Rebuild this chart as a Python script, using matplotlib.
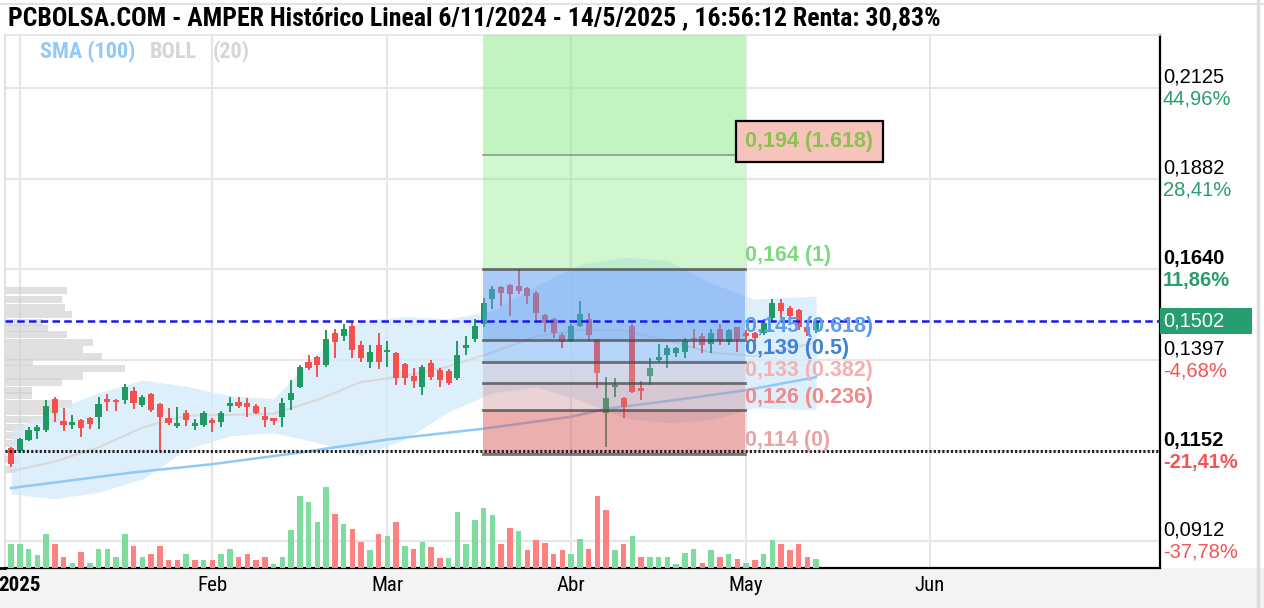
import numpy as np
import matplotlib
matplotlib.use("Agg")
import matplotlib.pyplot as plt
from matplotlib import font_manager
from matplotlib.patches import Rectangle
from matplotlib.lines import Line2D
from matplotlib.transforms import blended_transform_factory

installed = {f.name for f in font_manager.fontManager.ttflist}
cond = next((f for f in ["Roboto Condensed", "Liberation Sans Narrow", "Open Sans Condensed", "Roboto"]
             if f in installed), "DejaVu Sans")
sans = "Liberation Sans" if "Liberation Sans" in installed else "DejaVu Sans"

title = "PCBOLSA.COM - AMPER Histórico Lineal 6/11/2024 - 14/5/2025 , 16:56:12 Renta: 30,83%"

# daily candles, 31/12/2024 .. 14/5/2025 (trading days)
opens = [0.1160, 0.1152, 0.1184, 0.1208, 0.1210, 0.1293, 0.1234, 0.1224, 0.1237, 0.1242,
         0.1245, 0.1293, 0.1290, 0.1290, 0.1314, 0.1277, 0.1306, 0.1279, 0.1242, 0.1221,
         0.1255, 0.1221, 0.1224, 0.1237, 0.1232, 0.1274, 0.1285, 0.1282, 0.1274, 0.1247,
         0.1242, 0.1245, 0.1290, 0.1324, 0.1391, 0.1404, 0.1383, 0.1470, 0.1462, 0.1489,
         0.1436, 0.1391, 0.1436, 0.1417, 0.1415, 0.1385, 0.1354, 0.1324, 0.1388, 0.1369,
         0.1367, 0.1348, 0.1430, 0.1454, 0.1494, 0.1560, 0.1592, 0.1598, 0.1595, 0.1590,
         0.1576, 0.1518, 0.1507, 0.1465, 0.1449, 0.1489, 0.1507, 0.1452, 0.1255, 0.1324,
         0.1295, 0.1489, 0.1322, 0.1354, 0.1396, 0.1409, 0.1415, 0.1417, 0.1457, 0.1462,
         0.1441, 0.1481, 0.1444, 0.1484, 0.1470, 0.1470, 0.1470, 0.1510, 0.1550, 0.1537,
         0.1531, 0.1484, 0.1476]
highs = [0.1165, 0.1189, 0.1218, 0.1224, 0.1290, 0.1298, 0.1269, 0.1250, 0.1240, 0.1245,
         0.1298, 0.1306, 0.1293, 0.1332, 0.1324, 0.1303, 0.1308, 0.1282, 0.1269, 0.1271,
         0.1263, 0.1240, 0.1261, 0.1242, 0.1261, 0.1298, 0.1298, 0.1295, 0.1279, 0.1271,
         0.1242, 0.1295, 0.1343, 0.1383, 0.1409, 0.1407, 0.1476, 0.1481, 0.1494, 0.1502,
         0.1449, 0.1436, 0.1470, 0.1449, 0.1417, 0.1388, 0.1375, 0.1383, 0.1396, 0.1375,
         0.1372, 0.1449, 0.1462, 0.1507, 0.1563, 0.1595, 0.1595, 0.1600, 0.1640, 0.1592,
         0.1582, 0.1521, 0.1510, 0.1468, 0.1494, 0.1555, 0.1523, 0.1454, 0.1351, 0.1348,
         0.1298, 0.1494, 0.1340, 0.1401, 0.1441, 0.1436, 0.1433, 0.1457, 0.1481, 0.1470,
         0.1481, 0.1494, 0.1481, 0.1486, 0.1476, 0.1473, 0.1507, 0.1560, 0.1560, 0.1542,
         0.1534, 0.1486, 0.1507]
lows = [0.1110, 0.1149, 0.1179, 0.1186, 0.1205, 0.1232, 0.1208, 0.1213, 0.1192, 0.1213,
        0.1213, 0.1261, 0.1261, 0.1279, 0.1266, 0.1271, 0.1258, 0.1152, 0.1224, 0.1216,
        0.1221, 0.1210, 0.1218, 0.1205, 0.1218, 0.1258, 0.1269, 0.1245, 0.1253, 0.1218,
        0.1224, 0.1218, 0.1263, 0.1322, 0.1369, 0.1351, 0.1377, 0.1401, 0.1449, 0.1401,
        0.1391, 0.1375, 0.1372, 0.1377, 0.1330, 0.1330, 0.1322, 0.1303, 0.1343, 0.1324,
        0.1330, 0.1343, 0.1409, 0.1446, 0.1484, 0.1534, 0.1542, 0.1515, 0.1574, 0.1547,
        0.1502, 0.1473, 0.1457, 0.1428, 0.1446, 0.1484, 0.1449, 0.1322, 0.1163, 0.1298,
        0.1242, 0.1308, 0.1290, 0.1330, 0.1391, 0.1375, 0.1404, 0.1401, 0.1430, 0.1415,
        0.1415, 0.1436, 0.1436, 0.1417, 0.1454, 0.1444, 0.1465, 0.1502, 0.1510, 0.1507,
        0.1476, 0.1462, 0.1468]
closes = [0.1118, 0.1186, 0.1210, 0.1218, 0.1274, 0.1255, 0.1224, 0.1232, 0.1216, 0.1226,
          0.1279, 0.1285, 0.1285, 0.1324, 0.1282, 0.1298, 0.1263, 0.1245, 0.1229, 0.1229,
          0.1237, 0.1229, 0.1255, 0.1229, 0.1255, 0.1282, 0.1274, 0.1271, 0.1255, 0.1237,
          0.1234, 0.1282, 0.1308, 0.1377, 0.1375, 0.1383, 0.1454, 0.1444, 0.1481, 0.1423,
          0.1401, 0.1417, 0.1391, 0.1423, 0.1348, 0.1348, 0.1340, 0.1377, 0.1351, 0.1343,
          0.1335, 0.1409, 0.1438, 0.1489, 0.1550, 0.1587, 0.1576, 0.1574, 0.1582, 0.1568,
          0.1523, 0.1497, 0.1470, 0.1444, 0.1489, 0.1521, 0.1465, 0.1362, 0.1295, 0.1330,
          0.1271, 0.1311, 0.1314, 0.1375, 0.1404, 0.1428, 0.1428, 0.1449, 0.1452, 0.1436,
          0.1470, 0.1449, 0.1476, 0.1454, 0.1462, 0.1457, 0.1497, 0.1550, 0.1529, 0.1515,
          0.1484, 0.1473, 0.1502]
# volume in millions of shares and its colour (g = up day, r = down day)
volumes = [10.9, 10.9, 8.7, 6.0, 15.2, 10.7, 5.0, 2.4, 7.2, 2.4,
           8.7, 8.7, 5.0, 15.2, 9.9, 5.0, 6.4, 9.9, 3.5, 3.5,
           6.2, 3.5, 3.5, 3.5, 6.2, 8.7, 5.0, 6.4, 3.5, 5.0,
           1.9, 5.0, 17.0, 32.4, 29.7, 20.7, 36.5, 24.2, 19.7, 17.7,
           11.7, 8.0, 15.2, 14.4, 20.7, 9.9, 8.7, 11.7, 9.5, 4.5,
           4.5, 25.2, 10.7, 21.5, 27.0, 23.7, 10.7, 18.0, 16.7, 8.0,
           12.5, 11.4, 6.4, 8.0, 6.4, 13.2, 8.7, 32.4, 26.0, 8.0,
           10.7, 14.3, 5.0, 5.0, 5.0, 5.0, 1.9, 6.9, 8.7, 2.4,
           8.0, 5.0, 6.2, 4.2, 2.4, 3.5, 6.2, 12.5, 10.7, 8.0,
           10.7, 5.0, 4.2]
vol_dir = ("gggggrrgrg" "ggggrgrrrr" "grgrggrrrr" "gggggggrgr" "rgrgrgrgrr"
           "ggggggrrgr" "rrrrggrrrg" "rgrggggggr" "grgrgrggrr" "rrg")

# indicators
band_idx = [0, 5, 10, 15, 20, 25, 30, 35, 40, 45, 50, 55, 60, 65, 70, 75, 80, 85, 92]
boll_upper = [0.1210, 0.1263, 0.1309, 0.1343, 0.1327, 0.1301, 0.1293, 0.1415, 0.1502, 0.1513,
              0.1507, 0.1529, 0.1595, 0.1653, 0.1672, 0.1664, 0.1603, 0.1560, 0.1568]
boll_mid = [0.1099, 0.1125, 0.1163, 0.1216, 0.1248, 0.1250, 0.1253, 0.1290, 0.1338, 0.1354,
            0.1380, 0.1417, 0.1460, 0.1478, 0.1476, 0.1449, 0.1417, 0.1407, 0.1444]
boll_lower = [0.1038, 0.1025, 0.1043, 0.1078, 0.1157, 0.1194, 0.1202, 0.1176, 0.1141, 0.1184,
              0.1258, 0.1309, 0.1324, 0.1290, 0.1242, 0.1229, 0.1237, 0.1269, 0.1263]
sma_idx = [0, 14, 23, 33, 43, 54, 64, 68, 76, 84, 92]
sma100 = [0.1054, 0.1096, 0.1118, 0.1149, 0.1184, 0.1213, 0.1245, 0.1266, 0.1290, 0.1316, 0.1351]

# volume-by-price profile
profile_prices = [0.1582, 0.1558, 0.1537, 0.1518, 0.1497, 0.1481, 0.1465, 0.1444, 0.1425, 0.1407,
                  0.1391, 0.1375, 0.1354, 0.1338, 0.1316, 0.1301, 0.1279, 0.1258, 0.1237, 0.1216,
                  0.1194, 0.1173, 0.1131, 0.1104]
profile_vol = [62, 57, 60, 67, 38, 43, 62, 88, 78, 97, 28, 120, 78, 57, 27, 27, 67, 55, 55, 20,
               18, 15, 14, 12]

month_idx = [1, 23, 43, 64, 84, 105]
month_labels = ["2025", "Feb", "Mar", "Abr", "May", "Jun"]

grid_prices = [0.2125, 0.1882, 0.1640, 0.1397, 0.1152, 0.0912]
grid_pct = ["44,96%", "28,41%", "11,86%", "-4,68%", "-21,41%", "-37,78%"]
bold_rows = [2, 4]
last_price = 0.1502
period_low = 0.1152

fib_low, fib_high = 0.1145, 0.1640
fib_ratios = [0, 0.236, 0.382, 0.5, 0.618, 1, 1.618]
fib_start, fib_end = 53.9, 83.9

# ---------------------------------------------------------------
W, H = 1264, 608
fig = plt.figure(figsize=(W / 100, H / 100), dpi=100)
fig.patch.set_facecolor("white")
fig.add_artist(Rectangle((0, 0), 1, 40 / H, transform=fig.transFigure,
                         fc="#f3f3f3", ec="none", zorder=-5))
fig.add_artist(Line2D([0, 1], [1 - 4 / H] * 2, color="#e2e2e2", lw=1.5))
fig.add_artist(Line2D([1258 / W] * 2, [0, 1], color="#dcdcdc", lw=2.5))
fig.add_artist(Line2D([0, 5 / W], [1 - 568 / H] * 2, color="black", lw=2))

ax = fig.add_axes([5 / W, 1 - 568 / H, 1155 / W, 533 / H])
ax.set_xlim(-0.69, 131.3)
ax.set_ylim(0.0840, 0.2267)

x = np.arange(len(closes))
o = np.array(opens); c = np.array(closes); h = np.array(highs); l = np.array(lows)

ax.set_yticks(grid_prices)
ax.set_xticks(month_idx)
ax.set_xticklabels(month_labels, family=cond, fontsize=15)
ax.get_xticklabels()[0].set_fontweight("bold")
ax.tick_params(axis="both", length=0, labelleft=False, pad=6)
ax.grid(True, color="#e6e6e6", lw=1.5)
ax.set_axisbelow(True)
for side, col, lw in [("left", "#dddddd", 1.2), ("top", "#e2e2e2", 1.2),
                      ("right", "black", 1.6), ("bottom", "black", 1.6)]:
    ax.spines[side].set_color(col)
    ax.spines[side].set_linewidth(lw)

# volume profile on the left edge
pv = np.array(profile_vol, dtype=float)
ax.barh(profile_prices, pv / pv.max() * 13.7, left=ax.get_xlim()[0], height=0.0019,
        color="#d0d0d0", alpha=0.65, lw=0, zorder=1)

# bollinger band and sma
ax.fill_between(band_idx, boll_lower, boll_upper, color="#d4eafb", alpha=0.75, lw=0, zorder=1.5)
ax.plot(band_idx, boll_mid, color="#d8d8d8", lw=1.5, zorder=2)
ax.plot(sma_idx, sma100, color="#8fc9f7", lw=1.8, zorder=2)

# candles
up = c >= o
cols = np.where(up, "#1f9a65", "#f4504e")
ax.vlines(x, l, h, colors=cols, lw=1.4, zorder=3)
body_lo = np.minimum(o, c)
body_h = np.maximum(np.abs(c - o), 0.0003)
ax.bar(x, body_h, bottom=body_lo, width=0.7, color=cols, lw=0, zorder=3.1)

# fibonacci retracement
levels = [fib_low + r * (fib_high - fib_low) for r in fib_ratios]
zones = [("#d86060", 0.50), ("#c87f88", 0.35), ("#b8adc8", 0.35), ("#5c9cf0", 0.30),
         ("#5c9cf0", 0.52), ("#86ea86", 0.38)]
for (col, a), lo, hi in zip(zones, levels[:-1], levels[1:]):
    ax.fill_between([fib_start, fib_end], lo, hi, color=col, alpha=a, lw=0, zorder=4)
ax.fill_between([fib_start, fib_end], levels[-1], ax.get_ylim()[1], color="#86ea86",
                alpha=0.5, lw=0, zorder=4)
for lev in levels[:-1]:
    ax.plot([fib_start, fib_end], [lev, lev], color="#4a4a4a", lw=2, alpha=0.75, zorder=5)
ax.plot([fib_start, fib_end], [levels[-1]] * 2, color="#6f8f6f", lw=1.2, alpha=0.8, zorder=5)

label_cols = ["#eba3a3", "#f08a8a", "#f5b0b0", "#3f82d6", "#5b9cf0", "#7fd97f", "#8cc152"]
for r, lev, col in zip(fib_ratios, levels, label_cols):
    txt = f"{int(lev * 1000 + 1e-6) / 1000:.3f}".replace(".", ",") + f" ({r:g})"
    kw = {}
    if r == 1.618:
        kw["bbox"] = dict(boxstyle="square,pad=0.45", fc="#f6c4ba", ec="black", lw=1.6)
    ax.annotate(txt, (fib_end, lev), xytext=(0, 2), textcoords="offset points",
                ha="left", va="bottom", color=col, fontsize=15.5, family=sans,
                fontweight="bold", zorder=7, annotation_clip=False, **kw)

# last price and period low
ax.axhline(last_price, color="#1a1aee", lw=1.8, dashes=(3.0, 1.7), zorder=6)
ax.axhline(period_low, color="#222222", lw=2.2, dashes=(0.7, 0.7), zorder=6)

# right price scale
tr = blended_transform_factory(ax.transAxes, ax.transData)
xl = 1 + 3 / 1155
for k, (p, pct) in enumerate(zip(grid_prices, grid_pct)):
    wt = "bold" if k in bold_rows else "normal"
    pcol = "#2a9d6c" if not pct.startswith("-") else "#f25555"
    ax.annotate(f"{p:.4f}".replace(".", ","), (xl, p), xycoords=tr, xytext=(0, 1),
                textcoords="offset points", va="bottom", ha="left", fontsize=14.5,
                family=sans, fontweight=wt, color="black", annotation_clip=False)
    ax.annotate(pct, (xl, p), xycoords=tr, xytext=(0, -1), textcoords="offset points",
                va="top", ha="left", fontsize=14.5, family=sans, fontweight=wt,
                color=pcol, annotation_clip=False)
ax.add_patch(Rectangle((1.0, last_price - 0.0035), 92 / 1155, 0.007, transform=tr,
                       fc="#269e6e", ec="none", clip_on=False, zorder=8))
ax.text(xl, last_price, f"{last_price:.4f}".replace(".", ","), transform=tr, va="center",
        ha="left", fontsize=14.5, family=sans, color="white", zorder=9, clip_on=False)

# volume bars
axv = ax.twinx()
axv.set_ylim(0, max(volumes) * 533 / 81)
axv.bar(x, volumes, width=0.62, color=["#7ddc9e" if d == "g" else "#ff8080" for d in vol_dir],
        lw=0)
axv.axis("off")

# title and indicator legend
t = fig.text(8 / W, 1 - 18 / H, title, fontsize=15, fontweight="bold", family=cond, va="center")
fig.canvas.draw()
wpx = t.get_window_extent().width
t.set_fontsize(15 * 932 / wpx)
fig.text(40 / W, 1 - 52 / H, "SMA (100)", color="#92c9f6", fontsize=16, fontweight="bold",
         family=cond, va="center")
fig.text(150 / W, 1 - 52 / H, "BOLL", color="#d6d6d6", fontsize=16, fontweight="bold",
         family=cond, va="center")
fig.text(213 / W, 1 - 52 / H, "(20)", color="#d6d6d6", fontsize=16, fontweight="bold",
         family=cond, va="center")

fig.savefig("out.png", dpi=100)
